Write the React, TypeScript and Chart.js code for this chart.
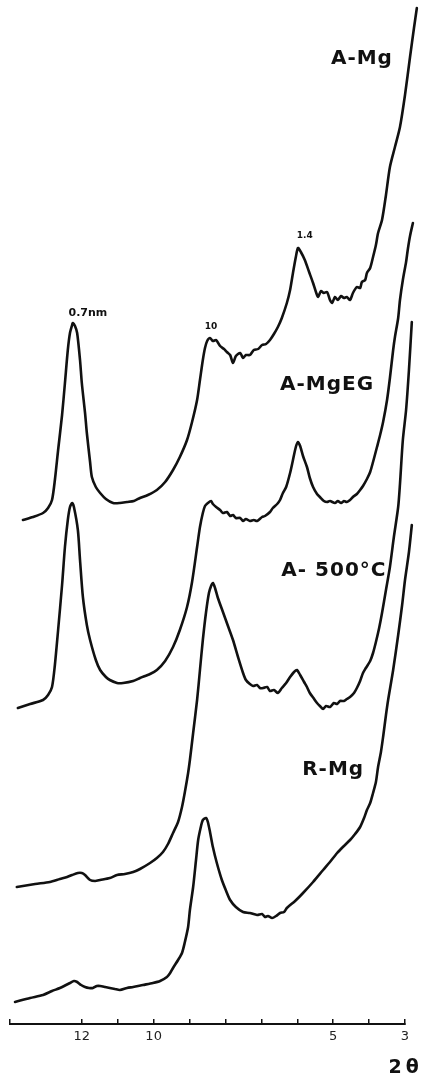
import { useEffect, useRef } from "react";
import { Chart, registerables } from "chart.js";

Chart.register(...registerables);

// Diffractogram traces: 2θ (degrees) and stacked intensity (arbitrary units, offset per sample)
const aMgTheta = [13.64, 13.36, 13.08, 12.94, 12.83, 12.75, 12.66, 12.55, 12.47, 12.39, 12.33, 12.27, 12.25, 12.19, 12.13, 12.05, 12.0, 11.91, 11.86, 11.77, 11.72, 11.61, 11.49, 11.33, 11.13, 10.94, 10.74, 10.55, 10.38, 10.16, 9.91, 9.68, 9.46, 9.27, 9.07, 8.93, 8.79, 8.71, 8.63, 8.57, 8.51, 8.43, 8.35, 8.26, 8.15, 8.04, 7.96, 7.87, 7.79, 7.71, 7.59, 7.51, 7.43, 7.32, 7.21, 7.09, 6.98, 6.87, 6.76, 6.65, 6.54, 6.43, 6.29, 6.2, 6.12, 6.04, 5.98, 5.9, 5.79, 5.67, 5.56, 5.48, 5.42, 5.34, 5.26, 5.17, 5.09, 5.03, 4.95, 4.87, 4.78, 4.7, 4.62, 4.53, 4.45, 4.34, 4.25, 4.2, 4.11, 4.06, 3.97, 3.89, 3.81, 3.75, 3.64, 3.53, 3.42, 3.28, 3.14, 3.0, 2.86, 2.75, 2.67];
const aMgIntensity = [504, 507, 511, 516, 524, 544, 574, 609, 641, 674, 691, 699, 701, 698, 691, 664, 641, 611, 591, 562, 547, 537, 531, 525, 521, 521, 522, 523, 526, 529, 534, 542, 554, 567, 584, 602, 624, 644, 664, 676, 683, 686, 683, 684, 678, 675, 672, 669, 661, 668, 671, 666, 669, 669, 674, 675, 679, 680, 684, 690, 697, 706, 721, 734, 751, 767, 776, 772, 764, 752, 741, 732, 727, 733, 731, 732, 724, 721, 727, 724, 728, 726, 727, 724, 731, 737, 736, 742, 744, 751, 756, 767, 779, 791, 804, 829, 857, 877, 897, 929, 967, 996, 1016];

const aMgEgTheta = [13.78, 13.44, 13.08, 12.94, 12.83, 12.75, 12.66, 12.55, 12.47, 12.39, 12.33, 12.27, 12.22, 12.11, 12.05, 11.97, 11.86, 11.77, 11.61, 11.49, 11.33, 11.22, 11.02, 10.85, 10.57, 10.38, 10.1, 9.91, 9.68, 9.46, 9.27, 9.07, 8.93, 8.79, 8.71, 8.63, 8.57, 8.49, 8.4, 8.35, 8.26, 8.15, 8.07, 7.96, 7.87, 7.79, 7.71, 7.59, 7.51, 7.43, 7.32, 7.21, 7.12, 6.98, 6.9, 6.76, 6.68, 6.56, 6.48, 6.4, 6.31, 6.2, 6.12, 6.04, 5.98, 5.92, 5.84, 5.73, 5.65, 5.56, 5.45, 5.37, 5.26, 5.17, 5.09, 4.95, 4.87, 4.78, 4.7, 4.62, 4.53, 4.45, 4.34, 4.25, 4.17, 4.06, 3.97, 3.89, 3.78, 3.7, 3.61, 3.5, 3.42, 3.33, 3.28, 3.19, 3.14, 3.06, 2.97, 2.92, 2.86, 2.78];
const aMgEgIntensity = [316, 320, 324, 329, 337, 359, 394, 439, 477, 504, 517, 521, 517, 494, 464, 427, 399, 384, 364, 354, 347, 344, 341, 341, 343, 346, 350, 354, 363, 377, 394, 417, 442, 477, 497, 511, 518, 521, 523, 520, 517, 514, 511, 512, 508, 509, 506, 506, 503, 505, 503, 504, 503, 507, 508, 512, 516, 520, 524, 531, 537, 551, 564, 577, 582, 578, 568, 557, 546, 537, 530, 527, 523, 522, 523, 521, 523, 521, 523, 522, 524, 527, 530, 534, 538, 545, 552, 562, 577, 588, 602, 624, 646, 674, 687, 706, 724, 744, 762, 775, 788, 801];

const a500Theta = [13.81, 13.3, 12.89, 12.61, 12.41, 12.27, 12.11, 12.0, 11.91, 11.77, 11.63, 11.49, 11.22, 11.02, 10.8, 10.57, 10.38, 10.1, 9.91, 9.74, 9.6, 9.46, 9.32, 9.21, 9.13, 9.04, 8.99, 8.9, 8.79, 8.71, 8.63, 8.54, 8.46, 8.4, 8.35, 8.29, 8.21, 8.07, 7.93, 7.79, 7.65, 7.51, 7.43, 7.32, 7.23, 7.12, 7.04, 6.95, 6.84, 6.76, 6.65, 6.54, 6.43, 6.31, 6.2, 6.09, 6.01, 5.92, 5.81, 5.73, 5.65, 5.53, 5.45, 5.37, 5.28, 5.2, 5.09, 4.98, 4.89, 4.81, 4.7, 4.62, 4.53, 4.42, 4.34, 4.25, 4.17, 4.09, 3.97, 3.89, 3.81, 3.72, 3.64, 3.53, 3.42, 3.31, 3.19, 3.14, 3.06, 2.97, 2.89, 2.81];
const a500Intensity = [137, 140, 142, 145, 147, 149, 151, 151, 149, 144, 143, 144, 146, 149, 150, 152, 155, 161, 166, 172, 180, 191, 202, 217, 232, 251, 264, 291, 324, 354, 384, 412, 431, 438, 441, 436, 426, 412, 398, 384, 367, 351, 344, 340, 338, 339, 336, 336, 337, 333, 334, 331, 336, 341, 347, 352, 354, 349, 342, 337, 331, 325, 321, 318, 315, 318, 317, 321, 320, 323, 323, 325, 327, 331, 336, 343, 351, 356, 363, 371, 382, 396, 411, 434, 457, 487, 517, 540, 584, 614, 654, 702];

const rMgTheta = [13.86, 13.44, 13.08, 12.83, 12.61, 12.44, 12.33, 12.22, 12.13, 12.02, 11.91, 11.8, 11.69, 11.58, 11.49, 11.35, 11.22, 11.08, 10.94, 10.74, 10.57, 10.3, 10.02, 9.82, 9.63, 9.54, 9.46, 9.32, 9.21, 9.13, 9.04, 8.99, 8.9, 8.82, 8.76, 8.68, 8.63, 8.54, 8.49, 8.43, 8.35, 8.24, 8.1, 7.98, 7.87, 7.71, 7.51, 7.32, 7.12, 6.98, 6.9, 6.82, 6.7, 6.59, 6.48, 6.37, 6.29, 6.06, 5.84, 5.56, 5.28, 5.09, 4.89, 4.73, 4.53, 4.39, 4.25, 4.14, 4.06, 3.97, 3.89, 3.81, 3.75, 3.67, 3.61, 3.53, 3.47, 3.33, 3.19, 3.08, 3.0, 2.89, 2.81];
const rMgIntensity = [22, 26, 29, 33, 36, 39, 41, 43, 42, 39, 37, 36, 36, 38, 38, 37, 36, 35, 34, 36, 37, 39, 41, 43, 47, 51, 56, 64, 71, 82, 97, 114, 137, 164, 184, 198, 204, 206, 202, 192, 177, 161, 144, 133, 124, 117, 112, 111, 109, 110, 107, 108, 106, 108, 111, 112, 116, 123, 131, 142, 154, 162, 171, 177, 184, 190, 197, 206, 214, 221, 231, 242, 257, 272, 287, 309, 324, 354, 389, 419, 444, 472, 499];

// Sample names, anchored in data coordinates (2θ, intensity)
const sampleNames = ["A-Mg", "A-MgEG", "A- 500°C", "R-Mg"];
const sampleLabelTheta = [4.2, 5.17, 4.98, 5.0];
const sampleLabelIntensity = [965, 639, 453, 254];

// Basal reflection markers
const peakNames = ["0.7nm", "10", "1.4"];
const peakLabelTheta = [11.83, 8.4, 5.79];
const peakLabelIntensity = [711, 697, 788];

// 2θ axis ticks
const tickValues = [3, 4, 5, 6, 7, 8, 9, 10, 11, 12, 14];
const labeledTicks = [12, 10, 5, 3];

const INK = "#111111";

const labelPlugin = {
  id: "traceLabels",
  afterDatasetsDraw(chart: any) {
    const { ctx, scales } = chart;
    const xs = scales.x;
    const ys = scales.y;
    ctx.save();
    ctx.fillStyle = INK;
    ctx.textAlign = "center";
    ctx.textBaseline = "middle";

    ctx.font = "bold 20px 'DejaVu Sans'";
    (ctx as any).letterSpacing = "1px";
    sampleNames.forEach((name, i) => {
      ctx.fillText(name, xs.getPixelForValue(sampleLabelTheta[i]), ys.getPixelForValue(sampleLabelIntensity[i]));
    });

    (ctx as any).letterSpacing = "0px";
    peakNames.forEach((name, i) => {
      ctx.font = i === 0 ? "bold 11px 'DejaVu Sans'" : "bold 9px 'DejaVu Sans'";
      ctx.fillText(name, xs.getPixelForValue(peakLabelTheta[i]), ys.getPixelForValue(peakLabelIntensity[i]));
    });

    // axis title
    ctx.font = "bold 19px 'DejaVu Sans'";
    (ctx as any).letterSpacing = "4px";
    ctx.fillText("2θ", xs.getPixelForValue(2.98), chart.chartArea.bottom + 44);
    ctx.restore();
  },
};

export default function App() {
  const canvasRef = useRef<HTMLCanvasElement | null>(null);

  useEffect(() => {
    const canvas = canvasRef.current;
    if (!canvas) return;

    const series = [
      { label: "A-Mg", theta: aMgTheta, intensity: aMgIntensity },
      { label: "A-MgEG", theta: aMgEgTheta, intensity: aMgEgIntensity },
      { label: "A-500°C", theta: a500Theta, intensity: a500Intensity },
      { label: "R-Mg", theta: rMgTheta, intensity: rMgIntensity },
    ];

    const chart = new Chart(canvas, {
      type: "line",
      data: {
        datasets: series.map((s) => ({
          label: s.label,
          data: s.theta.map((t, i) => ({ x: t, y: s.intensity[i] })),
          borderColor: INK,
          borderWidth: 2.6,
          pointRadius: 0,
          fill: false,
          tension: 0.25,
          clip: false as any,
          borderJoinStyle: "round" as const,
          borderCapStyle: "round" as const,
        })),
      },
      options: {
        responsive: false,
        animation: false,
        devicePixelRatio: 1,
        layout: { padding: { left: 10, right: 16, top: 0, bottom: 0 } },
        plugins: { legend: { display: false }, tooltip: { enabled: false } },
        scales: {
          x: {
            type: "linear",
            min: 3,
            max: 14,
            reverse: true,
            afterFit: (scale: any) => {
              scale.height = 51;
            },
            afterBuildTicks: (scale: any) => {
              scale.ticks = tickValues.map((v) => ({ value: v }));
            },
            grid: {
              drawOnChartArea: false,
              drawTicks: true,
              tickLength: -5,
              color: INK,
              lineWidth: 1.5,
            },
            border: { display: true, color: INK, width: 2 },
            ticks: {
              autoSkip: false,
              maxRotation: 0,
              padding: 10,
              color: "#222222",
              font: { family: "'DejaVu Sans'", size: 13 },
              callback: (v: any) => (labeledTicks.includes(Number(v)) ? String(v) : ""),
            },
          },
          y: { display: false, min: 0, max: 1024 },
        },
      },
      plugins: [labelPlugin],
    });

    return () => chart.destroy();
  }, []);

  return (
    <div style={{ position: "absolute", left: 0, top: 0, width: 421, height: 1075, background: "#ffffff" }}>
      <canvas ref={canvasRef} width={421} height={1075} style={{ width: 421, height: 1075, display: "block" }} />
    </div>
  );
}
